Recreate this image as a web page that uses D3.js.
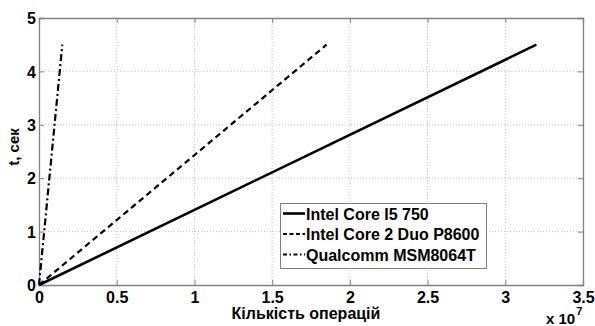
<!DOCTYPE html>
<html>
<head>
<meta charset="utf-8">
<script src="https://cdn.jsdelivr.net/npm/d3@7"></script>
<style>
  body { margin: 0; background: #fff; }
  svg { display: block; }
  text { font-family: "Liberation Sans", Arial, sans-serif; font-weight: bold; fill: #000; }
</style>
</head>
<body>
<svg id="chart" width="595" height="326"></svg>
<script>
// data (x in operations, t in seconds)
const seriesNames = ['Intel Core I5 750', 'Intel Core 2 Duo P8600', 'Qualcomm MSM8064T'];
const i5Points = [[0, 0], [3.2e7, 4.5]];
const p8600Points = [[0, 0], [1.85e7, 4.5]];
const qualcommPoints = [[0, 0], [0.15e7, 4.5]];
const xTicks = [0, 0.5e7, 1e7, 1.5e7, 2e7, 2.5e7, 3e7, 3.5e7];
const yTicks = [0, 1, 2, 3, 4, 5];

const series = [
  { name: seriesNames[0], pts: i5Points, dash: null, legDash: null, w: 2.6 },
  { name: seriesNames[1], pts: p8600Points, dash: '6,4', legDash: '4,2.5', w: 2.2 },
  { name: seriesNames[2], pts: qualcommPoints, dash: '7,3,2,3', legDash: '4,2.5,1.5,2.5', w: 2.2 }
];

const svg = d3.select('#chart');
const mLeft = 39, mTop = 18, mRight = 583, mBottom = 285;

const x = d3.scaleLinear().domain([0, 3.5e7]).range([mLeft, mRight]);
const y = d3.scaleLinear().domain([0, 5]).range([mBottom, mTop]);

// grid
const g = svg.append('g');
g.selectAll('.gx').data(xTicks.slice(1, -1)).enter().append('line')
  .attr('x1', d => x(d)).attr('x2', d => x(d))
  .attr('y1', mTop).attr('y2', mBottom)
  .attr('stroke', '#c4c4c4').attr('stroke-width', 1).attr('stroke-dasharray', '1,2');
g.selectAll('.gy').data(yTicks.slice(1, -1)).enter().append('line')
  .attr('x1', mLeft).attr('x2', mRight)
  .attr('y1', d => y(d)).attr('y2', d => y(d))
  .attr('stroke', '#c4c4c4').attr('stroke-width', 1).attr('stroke-dasharray', '1,2');

// axes (ticks inside, mirrored)
const axisColor = '#808080';
const xb = svg.append('g').attr('transform', `translate(0,${mBottom})`)
  .call(d3.axisBottom(x).tickValues(xTicks).tickSize(-5).tickFormat(d => d / 1e7));
const xt = svg.append('g').attr('transform', `translate(0,${mTop})`)
  .call(d3.axisTop(x).tickValues(xTicks).tickSize(-5).tickFormat(''));
const yl = svg.append('g').attr('transform', `translate(${mLeft},0)`)
  .call(d3.axisLeft(y).tickValues(yTicks).tickSize(-5).tickFormat(d => d));
const yr = svg.append('g').attr('transform', `translate(${mRight},0)`)
  .call(d3.axisRight(y).tickValues(yTicks).tickSize(-5).tickFormat(''));
[xb, xt, yl, yr].forEach(a => {
  a.attr('font-family', null).attr('font-size', null);
  a.select('.domain').attr('stroke', axisColor).attr('stroke-width', 1.3);
  a.selectAll('.tick line').attr('stroke', axisColor);
});
xb.selectAll('text').attr('dy', null).attr('y', 18).style('font-size', '16px');
yl.selectAll('text').attr('x', -3).attr('dy', '0.36em').style('font-size', '16px');

// lines
const line = d3.line().x(d => x(d[0])).y(d => y(d[1]));
svg.selectAll('.series').data(series).enter().append('path')
  .attr('d', d => line(d.pts))
  .attr('fill', 'none').attr('stroke', '#000')
  .attr('stroke-width', d => d.w)
  .attr('stroke-dasharray', d => d.dash);

// labels
svg.append('text').attr('x', 306).attr('y', 319).attr('text-anchor', 'middle')
  .style('font-size', '16px').text('Кількість операцій');
svg.append('text').attr('transform', 'translate(19,147) rotate(-90)').attr('text-anchor', 'middle')
  .style('font-size', '15px').text('t, сек');
const mult = svg.append('text').attr('x', 546).attr('y', 324).style('font-size', '15px');
mult.append('tspan').text('x 10');
mult.append('tspan').attr('dx', 1).attr('dy', -9).style('font-size', '11px').text('7');

// legend
const lg = svg.append('g');
lg.append('rect').attr('x', 280.5).attr('y', 203.5).attr('width', 206).attr('height', 65)
  .attr('fill', '#fff').attr('stroke', axisColor).attr('stroke-width', 1);
const rows = lg.selectAll('.row').data(series).enter().append('g')
  .attr('transform', (d, i) => `translate(0,${213.5 + i * 20.5})`);
rows.append('line').attr('x1', 283).attr('x2', 305).attr('y1', 0).attr('y2', 0)
  .attr('stroke', '#000').attr('stroke-width', d => d.w)
  .attr('stroke-dasharray', d => d.legDash);
rows.append('text').attr('x', 306).attr('y', 6).style('font-size', '16px').text(d => d.name);
</script>
</body>
</html>
